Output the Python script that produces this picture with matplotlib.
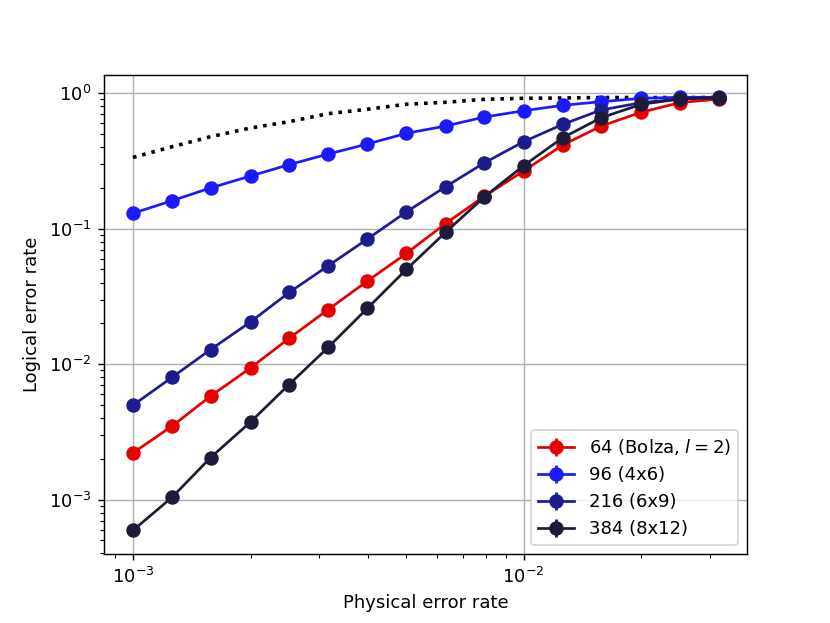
import matplotlib
matplotlib.use("Agg")
import matplotlib.pyplot as plt

p = [0.001, 0.00126, 0.00158, 0.002, 0.00251, 0.00316, 0.00398, 0.00501,
     0.00631, 0.00794, 0.01, 0.0126, 0.0158, 0.02, 0.0251, 0.0316]

bolza64 = [0.00221, 0.00349, 0.0058, 0.00938, 0.0155, 0.0253, 0.041, 0.0657,
           0.109, 0.174, 0.267, 0.415, 0.573, 0.724, 0.853, 0.907]
t96 = [0.130, 0.161, 0.200, 0.245, 0.297, 0.356, 0.422, 0.506,
       0.573, 0.668, 0.743, 0.815, 0.867, 0.918, 0.934, 0.934]
t216 = [0.00497, 0.0080, 0.0128, 0.0205, 0.0338, 0.0532, 0.0838, 0.133,
        0.204, 0.307, 0.439, 0.590, 0.753, 0.852, 0.907, 0.93]
t384 = [0.000592, 0.00104, 0.00204, 0.00374, 0.00707, 0.0133, 0.0258, 0.050,
        0.094, 0.172, 0.292, 0.470, 0.660, 0.829, 0.907, 0.93]
bound = [0.336, 0.403, 0.478, 0.554, 0.617, 0.707, 0.762, 0.83,
         0.858, 0.903, 0.918, 0.923, 0.93, 0.93, 0.93, 0.93]

labels = [r"64 (Bolza, $l=2$)", "96 (4x6)", "216 (6x9)", "384 (8x12)"]
colors = ["#e60000", "#1a1aff", "#1c1c8f", "#1c1c38"]
series = [bolza64, t96, t216, t384]

fig, ax = plt.subplots(figsize=(830/130, 623/130), dpi=130)
ax.plot(p, bound, "k:", lw=2)
for ys, lab, c in zip(series, labels, colors):
    ax.errorbar(p, ys, yerr=[0.0]*len(ys), fmt="o-", color=c, label=lab,
                markersize=7, lw=1.5)
ax.set_xscale("log")
ax.set_yscale("log")
ax.set_xlim(8.42e-4, 3.73e-2)
ax.set_ylim(3.93e-4, 1.37)
ax.grid(True, which="major", color="#b0b0b0")
ax.set_xlabel("Physical error rate")
ax.set_ylabel("Logical error rate")
ax.legend(loc="lower right")
fig.savefig("out.png", dpi=130)
